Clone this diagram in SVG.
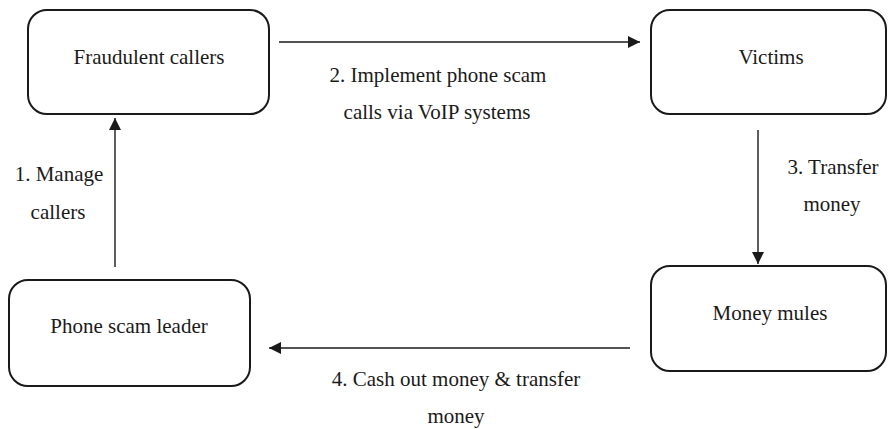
<svg xmlns="http://www.w3.org/2000/svg" width="888" height="429" viewBox="0 0 888 429">
<defs>
<marker id="ah" viewBox="0 0 12 12" refX="12" refY="6" markerWidth="12" markerHeight="12" markerUnits="userSpaceOnUse" orient="auto">
<path d="M0,0 L12,6 L0,12 Z" fill="#1a1a1a"/>
</marker>
</defs>
<rect width="888" height="429" fill="#fff"/>
<g id="connectors" stroke="#1a1a1a" stroke-width="1.4" fill="none" marker-end="url(#ah)">
<line x1="279" y1="42" x2="640" y2="42"/>
<line x1="758" y1="130" x2="758" y2="264"/>
<line x1="630" y1="348" x2="269" y2="348"/>
<line x1="115" y1="267" x2="115" y2="118"/>
</g>
<g id="labels" font-family="Liberation Serif" font-size="21" fill="#1a1a1a" text-anchor="middle">
<text x="438" y="82">2. Implement phone scam</text>
<text x="437" y="119">calls via VoIP systems</text>
<text x="833" y="174">3. Transfer</text>
<text x="832" y="211">money</text>
<text x="456" y="386">4. Cash out money &amp; transfer</text>
<text x="456" y="423">money</text>
<text x="59" y="181">1. Manage</text>
<text x="58" y="219">callers</text>
</g>
<g id="nodes" font-family="Liberation Serif" font-size="21" text-anchor="middle">
<g id="fraudulent-callers">
<rect x="28" y="10" width="241" height="104" rx="19" fill="#fff" stroke="#1a1a1a" stroke-width="2"/>
<text x="149" y="64" fill="#1a1a1a">Fraudulent callers</text>
</g>
<g id="victims">
<rect x="651" y="10" width="235" height="104" rx="19" fill="#fff" stroke="#1a1a1a" stroke-width="2"/>
<text x="771" y="64" fill="#1a1a1a">Victims</text>
</g>
<g id="money-mules">
<rect x="651" y="266" width="235" height="105" rx="19" fill="#fff" stroke="#1a1a1a" stroke-width="2"/>
<text x="770" y="320" fill="#1a1a1a">Money mules</text>
</g>
<g id="phone-scam-leader">
<rect x="9" y="280" width="241" height="106" rx="19" fill="#fff" stroke="#1a1a1a" stroke-width="2"/>
<text x="129" y="333" fill="#1a1a1a">Phone scam leader</text>
</g>
</g>
</svg>
